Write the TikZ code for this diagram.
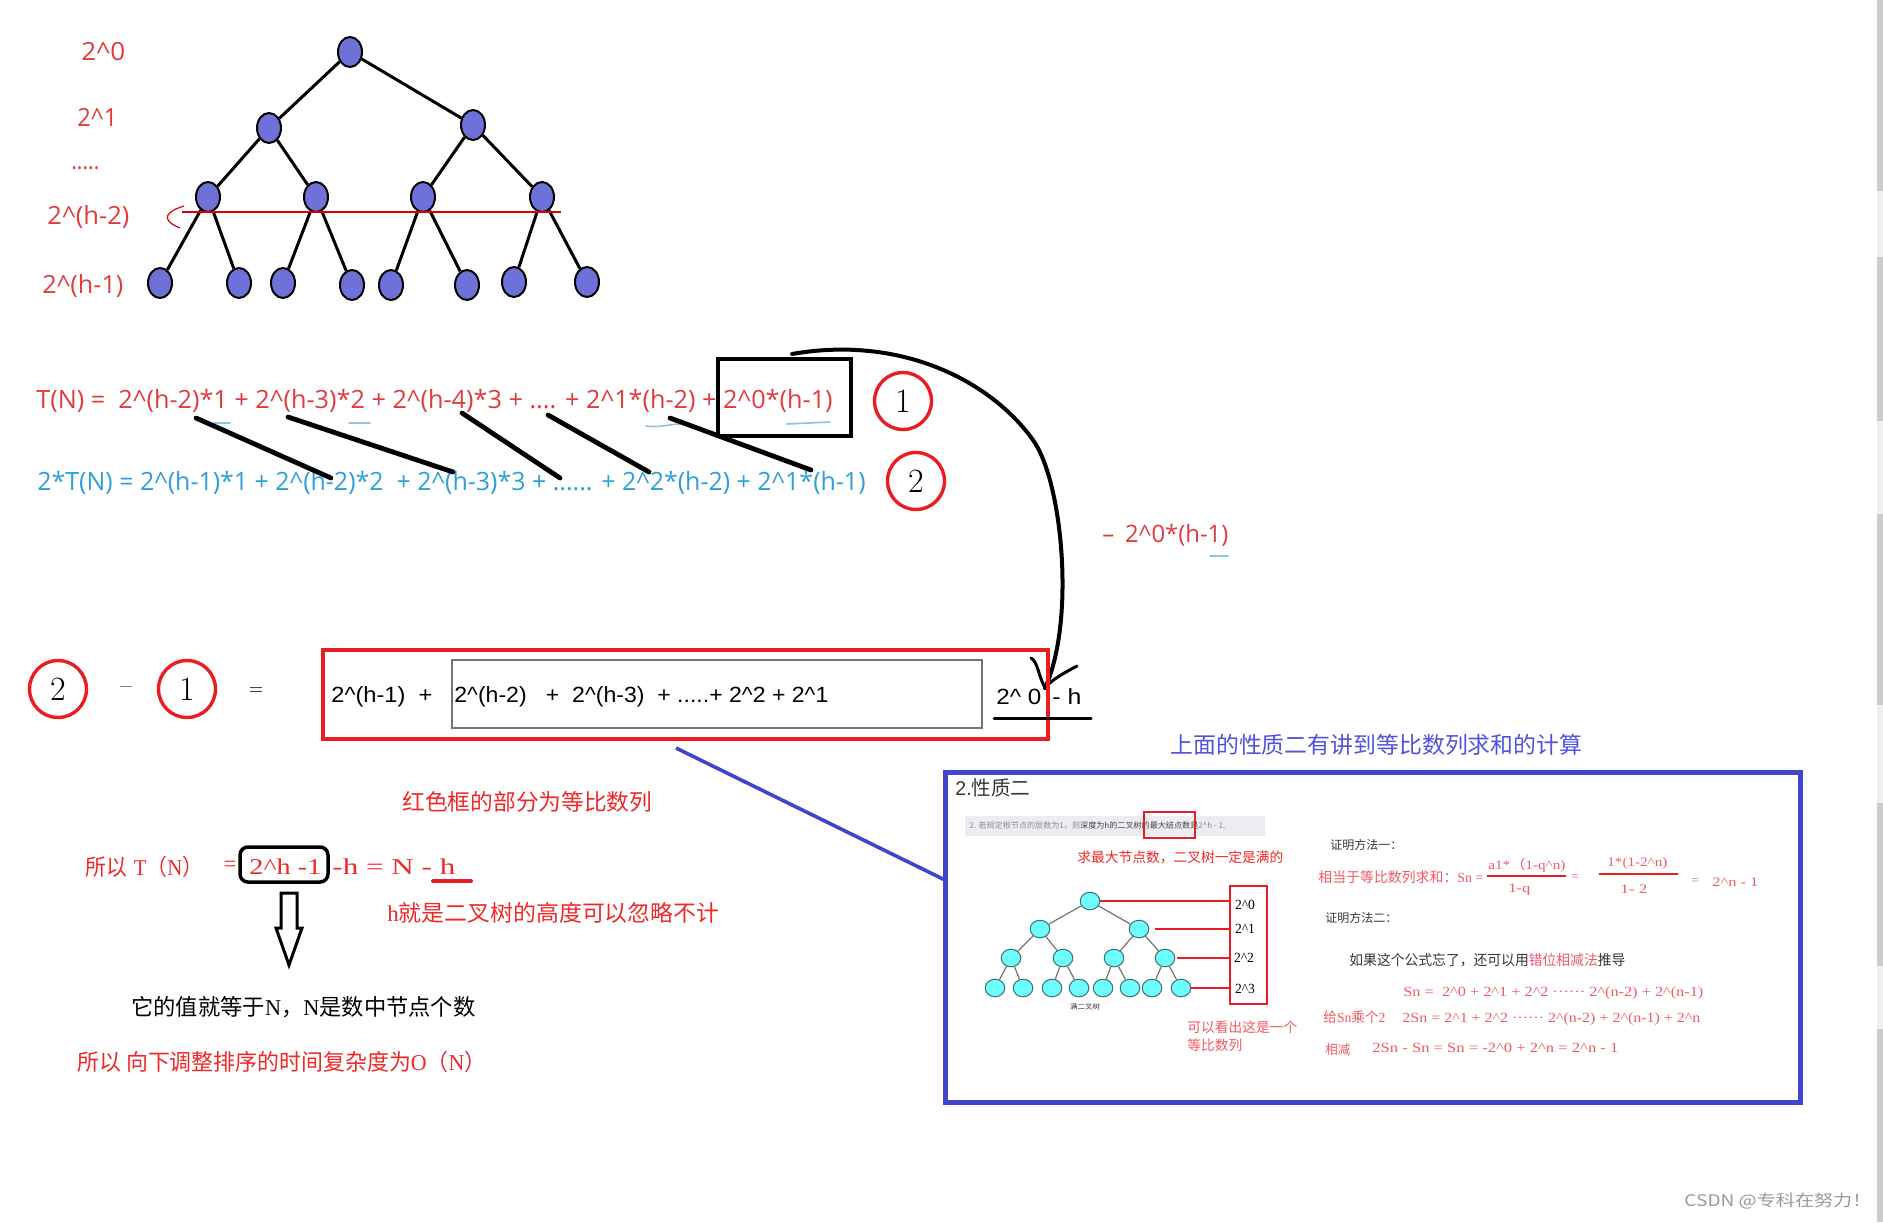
\documentclass[tikz,border=0pt]{standalone}
\usepackage{fontspec}
\usepackage{graphicx}
\usetikzlibrary{shapes.geometric}
\newfontfamily\cjk{Noto Sans CJK SC}
\newfontfamily\osans{Open Sans}
\newfontfamily\lsans{Liberation Sans}
\newfontfamily\lserif{Liberation Serif}
\newcommand\ca{\textasciicircum}
\newcommand\fitto[2]{\resizebox{#1}{\height}{#2}}
\newcommand\fs[1]{\fontsize{#1}{#1}\selectfont}
\definecolor{tred}{RGB}{226,58,62}
\definecolor{tblue}{RGB}{45,160,218}
\definecolor{cred}{RGB}{232,30,36}
\definecolor{nfill}{RGB}{110,114,216}
\definecolor{bblue}{RGB}{64,70,204}
\definecolor{ttl}{RGB}{82,82,226}
\definecolor{zred}{RGB}{240,40,40}
\definecolor{lred}{RGB}{242,90,100}
\definecolor{cyanf}{RGB}{110,252,252}
\definecolor{qline}{RGB}{60,110,120}
\definecolor{lb}{RGB}{140,195,230}
\definecolor{stripc}{RGB}{236,237,241}
\definecolor{dgray}{RGB}{55,55,55}
\begin{document}
\begin{tikzpicture}[x=0.5pt,y=-0.5pt,
 txt/.style={inner sep=0pt, anchor=west},
 ctr/.style={inner sep=0pt},
 pnode/.style={ellipse, draw=black, line width=1pt, fill=nfill, minimum width=12pt, minimum height=15pt, inner sep=0pt},
 tedge/.style={line width=1.5pt},
 qnode/.style={ellipse, draw=qline, line width=0.5pt, fill=cyanf, minimum width=9.8pt, minimum height=8.8pt, inner sep=0pt},
 qedge/.style={line width=0.6pt, draw=black!55},
 circ/.style={circle, draw=cred, line width=1.7pt, minimum size=28.5pt, inner sep=0pt, font=\rmfamily\fs{17}},
 diag/.style={line width=2.4pt, line cap=round},
 lbline/.style={draw=lb, line width=0.8pt, line cap=round},
 qred/.style={draw=cred, line width=1pt}]
\useasboundingbox (0,0) rectangle (1883,1222);
\fill[white] (0,0) rectangle (1883,1222);
% scrollbar
\fill[black!20] (1877,0) rectangle (1883,1222);
\foreach \a/\b in {191/257,421/514,705/803,966/1029}{\fill[black!6] (1877,\a) rectangle (1883,\b);}

% ---------- purple tree ----------
\node[pnode] (r) at (350,52) {};
\node[pnode] (a1) at (269,128) {};
\node[pnode] (a2) at (473,125) {};
\node[pnode] (b1) at (208,197) {};
\node[pnode] (b2) at (316,197) {};
\node[pnode] (b3) at (423,197) {};
\node[pnode] (b4) at (542,197) {};
\node[pnode] (c1) at (160,283) {};
\node[pnode] (c2) at (239,283) {};
\node[pnode] (c3) at (283,283) {};
\node[pnode] (c4) at (352,285) {};
\node[pnode] (c5) at (391,285) {};
\node[pnode] (c6) at (467,285) {};
\node[pnode] (c7) at (514,282) {};
\node[pnode] (c8) at (587,282) {};
\draw[tedge] (r)--(a1) (r)--(a2) (a1)--(b1) (a1)--(b2) (a2)--(b3) (a2)--(b4)
 (b1)--(c1) (b1)--(c2) (b2)--(c3) (b2)--(c4) (b3)--(c5) (b3)--(c6) (b4)--(c7) (b4)--(c8);
\draw[red!85!black, line width=0.6pt] (182,212)--(561,212);
\draw[red!85!black, line width=0.6pt] (184,206) .. controls (168,211) and (158,219) .. (180,228);

\node[txt, text=tred] (l0) at (81,52) {\fitto{22pt}{\osans\fs{12.5}2\ca{}0}};
\node[txt, text=tred] (l1) at (77,117) {\fitto{20pt}{\osans\fs{12.5}2\ca{}1}};
\node[txt, text=tred, anchor=base west] (l2) at (71,169) {\fitto{14pt}{\osans\fs{12.5}.....}};
\node[txt, text=tred] (l3) at (47,217) {\fitto{41pt}{\osans\fs{12.5}2\ca{}(h-2)}};
\node[txt, text=tred] (l4) at (42,286) {\fitto{40.5pt}{\osans\fs{12.5}2\ca{}(h-1)}};

% ---------- equations ----------
\node[txt, text=tred] (eq1) at (36,401) {\fitto{398pt}{\osans\fs{12.6}T(N) =\ \ 2\ca{}(h-2)*1 + 2\ca{}(h-3)*2 + 2\ca{}(h-4)*3 + .... + 2\ca{}1*(h-2) + 2\ca{}0*(h-1)}};
\node[txt, text=tblue] (eq2) at (37,483) {\fitto{414pt}{\osans\fs{12.6}2*T(N) = 2\ca{}(h-1)*1 + 2\ca{}(h-2)*2\ \ + 2\ca{}(h-3)*3 + ...... + 2\ca{}2*(h-2) + 2\ca{}1*(h-1)}};
\node[draw=black, line width=2pt, minimum width=66.5pt, minimum height=38.5pt, inner sep=0pt] (bx) at (784.5,397.5) {};
\node[circ] (n1) at (903,401) {1};
\node[circ] (n2) at (916,481) {2};

\draw[lbline] (214,423)--(230,423);
\draw[lbline] (349,423)--(370,423);
\draw[lbline] (646,426) .. controls (660,428) and (670,424) .. (680,424);
\draw[lbline] (787,424)--(830,422);
\draw[lbline] (1210,556)--(1228,556);

\coordinate (d1a) at (196,418); \coordinate (d1b) at (331,478);
\coordinate (d2a) at (288,417); \coordinate (d2b) at (453,472);
\coordinate (d3a) at (462,413); \coordinate (d3b) at (560,478);
\coordinate (d4a) at (548,415); \coordinate (d4b) at (649,472);
\coordinate (d5a) at (670,418); \coordinate (d5b) at (811,470);
\draw[diag] (d1a)--(d1b); \draw[diag] (d2a)--(d2b); \draw[diag] (d3a)--(d3b);
\draw[diag] (d4a)--(d4b); \draw[diag] (d5a)--(d5b);

% big arc
\coordinate (arcS) at (792,354);
\coordinate (arcM) at (1033,440);
\coordinate (arcT) at (1045,688);
\draw[line width=2pt, line cap=round] (arcS) .. controls (900,335) and (990,380) .. (arcM) .. controls (1062,480) and (1076,620) .. (arcT);
\draw[line width=1.5pt, line cap=round] (1031,658) .. controls (1038,662) and (1038,675) .. (arcT);
\draw[line width=1.5pt, line cap=round] (1077,666) .. controls (1066,672) and (1052,679) .. (arcT);
\node[txt, text=tred] (mlab) at (1102,535) {\fitto{63pt}{\osans\fs{12}–\hspace{0.45em}2\ca{}0*(h-1)}};

% ---------- row 3 ----------
\node[circ] (m2) at (58,689) {2};
\node[ctr, font=\rmfamily\fs{12}] (mm) at (126,690) {–};
\node[circ] (m1) at (187,689) {1};
\node[ctr, font=\rmfamily\fs{9}] (me) at (256,691) {=};
\node[draw=cred, line width=2pt, minimum width=362.5pt, minimum height=44.5pt, inner sep=0pt] (rb) at (685.5,694.5) {};
\node[draw=black!55, line width=0.9pt, minimum width=265pt, minimum height=34pt, inner sep=0pt] (gb) at (717,694) {};
\node[txt] (r1) at (331,697) {\fitto{50.5pt}{\lsans\fs{11}2\ca{}(h-1)\ \ +}};
\node[txt] (r2) at (454,697) {\fitto{187pt}{\lsans\fs{11}2\ca{}(h-2)\ \ \ +\ \ 2\ca{}(h-3)\ \ + .....+ 2\ca{}2 + 2\ca{}1}};
\node[txt] (r3) at (996,697) {\fitto{22.5pt}{\lsans\fs{11}2\ca{} 0}};
\node[txt] (r4) at (1052,697) {\fitto{14.5pt}{\lsans\fs{11}- h}};
\coordinate (ula) at (994,718); \coordinate (ulb) at (1091,718);
\draw[line width=1.5pt, line cap=round] (ula)--(ulb);

% ---------- blue box ----------
\coordinate (bls) at (676,748);
\coordinate (ble) at (945,880);
\draw[draw=bblue, line width=1.8pt] (bls)--(ble);
\node[draw=bblue, line width=2.5pt, minimum width=427.5pt, minimum height=165pt, inner sep=0pt] (bb) at (1372.5,937) {};
\node[txt, text=ttl] (ttl) at (1170,745) {\fitto{206pt}{\cjk\fs{11.4}上面的性质二有讲到等比数列求和的计算}};

\node[txt, text=dgray] (p2) at (955,788) {\fitto{37.5pt}{\fs{10}{\lsans 2.}{\cjk 性质二}}};
\node[fill=stripc, minimum width=150pt, minimum height=10pt, inner sep=0pt] (strip) at (1115,826) {};
\node[txt, text=black!45] (stxt) at (969,826) {\fitto{128pt}{\cjk\fs{4}2. 若规定根节点的层数为1，则\textcolor{black!75}{深度为h的二叉树的最大结点数是}2\ca{}h - 1.}};
\node[draw=cred, line width=1pt, minimum width=25.5pt, minimum height=13pt, inner sep=0pt] (sbx) at (1169.5,825) {};
\node[txt, text=zred] (qiu) at (1077,857) {\fitto{103pt}{\cjk\fs{6.9}求最大节点数，二叉树一定是满的}};

% cyan tree
\node[qnode] (q0) at (1090,901) {};
\node[qnode] (q1) at (1040,929) {};
\node[qnode] (q2) at (1139,929) {};
\node[qnode] (q3) at (1011,958) {};
\node[qnode] (q4) at (1063,958) {};
\node[qnode] (q5) at (1114,958) {};
\node[qnode] (q6) at (1165,958) {};
\node[qnode] (q7) at (995,988) {};
\node[qnode] (q8) at (1023,988) {};
\node[qnode] (q9) at (1052,988) {};
\node[qnode] (q10) at (1079,988) {};
\node[qnode] (q11) at (1103,988) {};
\node[qnode] (q12) at (1130,988) {};
\node[qnode] (q13) at (1152,988) {};
\node[qnode] (q14) at (1181,988) {};
\draw[qedge] (q0)--(q1) (q0)--(q2) (q1)--(q3) (q1)--(q4) (q2)--(q5) (q2)--(q6)
 (q3)--(q7) (q3)--(q8) (q4)--(q9) (q4)--(q10) (q5)--(q11) (q5)--(q12) (q6)--(q13) (q6)--(q14);
\node[ctr, text=black!80] (mtree) at (1085,1007) {\fitto{15pt}{\cjk\fs{3.5}满二叉树}};

\node[draw=cred, line width=1.4pt, minimum width=18.5pt, minimum height=59pt, inner sep=0pt] (lbx) at (1248.5,945) {};
\draw[qred] (q0.east) -- (q0.east -| lbx.west);
\draw[qred] ([xshift=3pt]q2.east) -- (q2.east -| lbx.west);
\draw[qred] ([xshift=1pt]q6.east) -- (q6.east -| lbx.west);
\draw[qred] (q14.east) -- (q14.east -| lbx.west);
\node[ctr] (k0) at (1245,905) {\fitto{10pt}{\lserif\fs{7}2\ca{}0}};
\node[ctr] (k1) at (1245,929) {\fitto{10pt}{\lserif\fs{7}2\ca{}1}};
\node[ctr] (k2) at (1244,958) {\fitto{10pt}{\lserif\fs{7}2\ca{}2}};
\node[ctr] (k3) at (1245,989) {\fitto{10pt}{\lserif\fs{7}2\ca{}3}};
\node[txt, text=lred] (ky1) at (1187,1027) {\fitto{55pt}{\cjk\fs{6.9}可以看出这是一个}};
\node[txt, text=lred] (ky2) at (1187,1045) {\fitto{27.5pt}{\cjk\fs{6.9}等比数列}};

% proofs
\node[txt, text=dgray] (z1) at (1330,845) {\fitto{36pt}{\cjk\fs{6}证明方法一：}};
\node[txt, text=lred] (z2) at (1318,877) {\fitto{82.5pt}{\fs{7}{\cjk 相当于等比数列求和：}{\lserif Sn =}}};
\node[txt, text=lred] (f1n) at (1488,865) {\fitto{38.5pt}{\fs{6.5}{\lserif a1*}{\cjk （}{\lserif 1-q\ca{}n)}}};
\coordinate (f1a) at (1487,876); \coordinate (f1b) at (1566,876);
\draw[draw=cred, line width=1pt] (f1a)--(f1b);
\node[txt, text=lred] (f1d) at (1508,890) {\fitto{11pt}{\lserif\fs{6.5}1-q}};
\node[ctr, text=lred] (f1e) at (1575,878) {\lserif\fs{6.5}=};
\node[txt, text=lred] (f2n) at (1607,863) {\fitto{30pt}{\lserif\fs{6.5}1*(1-2\ca{}n)}};
\coordinate (f2a) at (1599,874); \coordinate (f2b) at (1678,874);
\draw[draw=cred, line width=1pt] (f2a)--(f2b);
\node[txt, text=lred] (f2d) at (1620,889) {\fitto{13.5pt}{\lserif\fs{6.5}1- 2}};
\node[ctr, text=lred] (f2e) at (1695,882) {\lserif\fs{6.5}=};
\node[txt, text=lred] (f2r) at (1712,882) {\fitto{23pt}{\lserif\fs{6.5}2\ca{}n - 1}};
\node[txt, text=dgray] (z3) at (1325,918) {\fitto{36pt}{\cjk\fs{6}证明方法二：}};
\node[txt, text=dgray] (z4) at (1349,960) {\fitto{138pt}{\cjk\fs{7.2}如果这个公式忘了，还可以用\textcolor{lred}{错位相减法}推导}};
\node[txt, text=lred] (s1) at (1403,993) {\fitto{150pt}{\lserif\fs{7}Sn =\ \ 2\ca{}0 + 2\ca{}1 + 2\ca{}2 ······ 2\ca{}(n-2) + 2\ca{}(n-1)}};
\node[txt, text=lred] (s2l) at (1323,1017) {\fitto{31pt}{\fs{7}{\cjk 给}{\lserif Sn}{\cjk 乘个}{\lserif 2}}};
\node[txt, text=lred] (s2) at (1402,1019) {\fitto{149pt}{\lserif\fs{7}2Sn = 2\ca{}1 + 2\ca{}2 ······ 2\ca{}(n-2) + 2\ca{}(n-1) + 2\ca{}n}};
\node[txt, text=lred] (s3l) at (1325,1050) {\fitto{12.5pt}{\cjk\fs{6.5}相减}};
\node[txt, text=lred] (s3) at (1372,1048) {\fitto{123pt}{\lserif\fs{7}2Sn - Sn = Sn = -2\ca{}0 + 2\ca{}n = 2\ca{}n - 1}};

% ---------- bottom left ----------
\node[txt, text=zred] (hs) at (402,802) {\fitto{125pt}{\cjk\fs{11.3}红色框的部分为等比数列}};
\node[txt, text=zred] (so1) at (85,867) {\fitto{59pt}{\fs{11.3}{\cjk 所以}\ {\lserif T}{\cjk （}{\lserif N}{\cjk ）}}};
\node[ctr, text=zred] (so2) at (230,866) {\lserif\fs{11.3}=};
\node[draw=black, line width=1.75pt, rounded corners=4pt, minimum width=44pt, minimum height=17.5pt, inner sep=0pt] (hb) at (284,864.5) {};
\node[txt, text=zred] (so3) at (249,867) {\fitto{36pt}{\lserif\fs{11.3}2\ca{}h -1}};
\node[txt, text=zred] (so4) at (332,867) {\fitto{61.5pt}{\lserif\fs{11.3}-h = N - h}};
\coordinate (rua) at (433,881); \coordinate (rub) at (471,881);
\draw[draw=cred, line width=2pt, line cap=round] (rua)--(rub);
\draw[line width=1.5pt] (281,893) -- (297,893) -- (297,928) -- (302,928) -- (289,965) -- (276,928) -- (281,928) -- cycle;
\node[txt, text=zred] (hj) at (387,913) {\fitto{166pt}{\fs{11.3}{\lserif h}{\cjk 就是二叉树的高度可以忽略不计}}};
\node[txt, text=black] (zv) at (131,1007) {\fitto{172pt}{\fs{11.3}{\cjk 它的值就等于}{\lserif N}{\cjk ，}{\lserif N}{\cjk 是数中节点个数}}};
\node[txt, text=zred] (fin) at (77,1062) {\fitto{204.5pt}{\fs{11.3}{\cjk 所以 向下调整排序的时间复杂度为}{\lserif O}{\cjk （}{\lserif N}{\cjk ）}}};

% watermark
\node[txt, text=black!40] (wm) at (1684,1201) {\fitto{93.5pt}{\cjk\fs{8}CSDN @专科在努力！}};
\end{tikzpicture}
\end{document}
